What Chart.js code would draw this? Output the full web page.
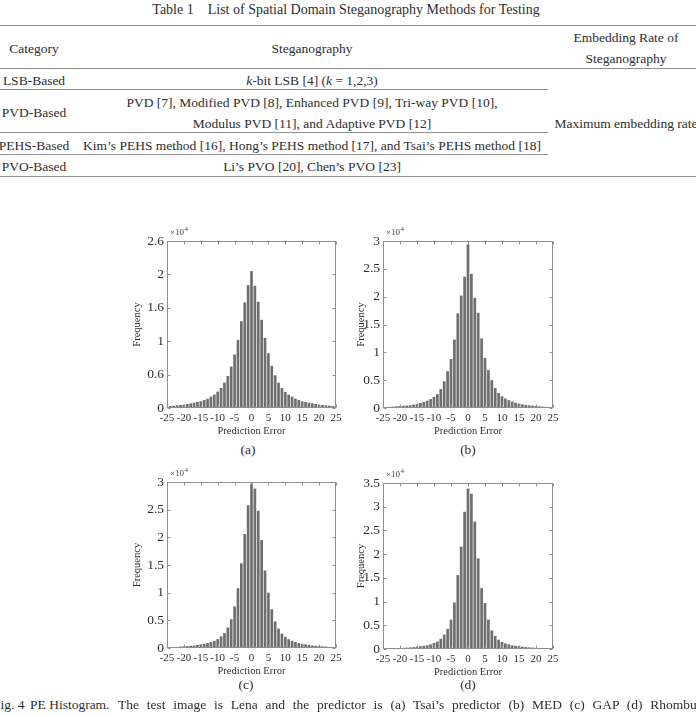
<!DOCTYPE html>
<html>
<head>
<meta charset="utf-8">
<script src="https://cdn.jsdelivr.net/npm/chart.js@4.4.0/dist/chart.umd.min.js"></script>
<style>
  html, body { margin: 0; padding: 0; background: #fff; }
  body {
    width: 696px; height: 717px; position: relative; overflow: hidden;
    font-family: "Liberation Serif", "Times New Roman", serif; color: #2e2e2e;
  }
  .t { position: absolute; white-space: pre; font-size: 13.5px; line-height: 16px; transform: translate(-50%, -50%); }
  .l { position: absolute; white-space: pre; font-size: 13.5px; line-height: 16px; transform: translateY(-50%); }
  .hl { position: absolute; height: 1px; background: #8e8e8e; }
  canvas { position: absolute; }
</style>
</head>
<body>

<!-- table -->
<div class="t" style="left:346px; top:10px; font-size:14px;">Table 1    List of Spatial Domain Steganography Methods for Testing</div>
<div class="hl" style="left:0; width:696px; top:25px;"></div>
<div class="t" style="left:34px; top:49px;">Category</div>
<div class="t" style="left:312px; top:49px;">Steganography</div>
<div class="t" style="left:626px; top:38px;">Embedding Rate of</div>
<div class="t" style="left:626px; top:59px;">Steganography</div>
<div class="hl" style="left:0; width:696px; top:68px;"></div>
<div class="t" style="left:34px; top:81px;">LSB-Based</div>
<div class="t" style="left:312px; top:81px;"><i>k</i>-bit LSB [4] (<i>k</i> = 1,2,3)</div>
<div class="hl" style="left:0; width:548px; top:89px;"></div>
<div class="t" style="left:34px; top:113px;">PVD-Based</div>
<div class="t" style="left:312px; top:103px;">PVD [7], Modified PVD [8], Enhanced PVD [9], Tri-way PVD [10],</div>
<div class="t" style="left:312px; top:124px;">Modulus PVD [11], and Adaptive PVD [12]</div>
<div class="t" style="left:626px; top:124px;">Maximum embedding rate</div>
<div class="hl" style="left:0; width:548px; top:132px;"></div>
<div class="t" style="left:34px; top:146px;">PEHS-Based</div>
<div class="t" style="left:312px; top:146px;">Kim’s PEHS method [16], Hong’s PEHS method [17], and Tsai’s PEHS method [18]</div>
<div class="hl" style="left:0; width:548px; top:154px;"></div>
<div class="t" style="left:34px; top:167px;">PVO-Based</div>
<div class="t" style="left:312px; top:167px;">Li’s PVO [20], Chen’s PVO [23]</div>
<div class="hl" style="left:0; width:696px; top:176px;"></div>

<!-- histograms -->
<canvas id="histA" width="235" height="217" style="left:115px; top:225px;"></canvas>
<canvas id="histB" width="236" height="217" style="left:331px; top:225px;"></canvas>
<canvas id="histC" width="235" height="216" style="left:115px; top:466px;"></canvas>
<canvas id="histD" width="236" height="216" style="left:331px; top:467px;"></canvas>

<div class="t" style="left:248px; top:450px;">(a)</div>
<div class="t" style="left:468px; top:450px;">(b)</div>
<div class="t" style="left:246px; top:685px;">(c)</div>
<div class="t" style="left:468px; top:685px;">(d)</div>

<div class="l" style="left:-7px; top:705px;">Fig. 4</div>
<div class="l" style="left:30px; top:705px;">PE Histogram.</div>
<div class="l" style="left:118px; top:705px; word-spacing:4.4px;">The test image is Lena and the predictor is (a) Tsai’s predictor (b) MED (c) GAP (d) Rhombus</div>

<script>
// prediction error bins
const errors = [-25, -24, -23, -22, -21, -20, -19, -18, -17, -16,
  -15, -14, -13, -12, -11, -10, -9, -8, -7, -6,
  -5, -4, -3, -2, -1, 0, 1, 2, 3, 4, 5,
  6, 7, 8, 9, 10, 11, 12, 13, 14, 15,
  16, 17, 18, 19, 20, 21, 22, 23, 24, 25];

// (a) Tsai's predictor
const freqA = [250, 300, 350, 400, 450, 500, 600, 700, 800, 900,
  1000, 1200, 1400, 1700, 2000, 2450, 3000, 3800, 4800, 6200,
  8000, 10200, 13000, 15800, 18400, 20500, 18300, 15900, 13200, 10500, 8200,
  6300, 4900, 3800, 3000, 2400, 2000, 1700, 1400, 1200, 1000,
  900, 800, 700, 600, 500, 450, 400, 350, 300, 250];

// (b) MED
const freqB = [150, 180, 200, 250, 300, 350, 400, 450, 500, 600,
  750, 900, 1100, 1300, 1600, 2000, 2500, 3400, 4800, 6600,
  8800, 12300, 17000, 20200, 23600, 29400, 24100, 19800, 17100, 12500, 9000,
  6800, 5000, 3600, 2700, 2100, 1700, 1400, 1150, 950, 800,
  650, 550, 480, 420, 360, 300, 250, 200, 170, 150];

// (c) GAP
const freqC = [120, 150, 180, 200, 250, 300, 350, 400, 450, 550,
  650, 750, 900, 1100, 1300, 1600, 2100, 2700, 3700, 5200,
  7500, 10800, 15300, 20600, 25800, 29700, 28800, 24800, 19500, 14000, 10000,
  7000, 4800, 3500, 2600, 2000, 1600, 1300, 1100, 900, 750,
  650, 550, 450, 400, 350, 300, 250, 200, 180, 150];

// (d) Rhombus
const freqD = [100, 120, 140, 160, 180, 200, 250, 300, 350, 400,
  500, 600, 700, 800, 1000, 1300, 1600, 2200, 3100, 4300,
  6300, 10000, 15900, 22000, 29500, 34500, 33400, 27400, 19500, 13100, 9900,
  6300, 4000, 2800, 2000, 1500, 1200, 1000, 800, 700, 600,
  500, 420, 360, 300, 250, 200, 170, 150, 120, 100];

const xTickLabels = ['-25', '-20', '-15', '-10', '-5', '0', '5', '10', '15', '20', '25'];
const yTicksA = ['0', '0.6', '1', '1.6', '2', '2.6'];
const yTicksB = ['0', '0.5', '1', '1.5', '2', '2.5', '3'];
const yTicksC = ['0', '0.5', '1', '1.5', '2', '2.5', '3'];
const yTicksD = ['0', '0.5', '1', '1.5', '2', '2.5', '3', '3.5'];

const serif = '"Liberation Serif", "Times New Roman", serif';
const textColor = '#2e2e2e';

// MATLAB-like box with inward ticks and the x10^4 exponent
const boxPlugin = {
  id: 'box',
  afterDraw(chart) {
    const { ctx, chartArea: a, scales } = chart;
    const l = Math.round(a.left) + 0.5, r = Math.round(a.right) - 0.5;
    const t = Math.round(a.top) + 0.5, b = Math.round(a.bottom) - 0.5;
    ctx.save();
    ctx.strokeStyle = '#8e8e8e';
    ctx.lineWidth = 1;
    ctx.strokeRect(l, t, r - l, b - t);
    ctx.beginPath();
    scales.x.ticks.forEach((tk) => {
      const x = Math.round(scales.x.getPixelForValue(tk.value)) + 0.5;
      ctx.moveTo(x, t); ctx.lineTo(x, t + 3);
      ctx.moveTo(x, b); ctx.lineTo(x, b - 3);
    });
    scales.y.ticks.forEach((tk) => {
      const y = Math.round(scales.y.getPixelForValue(tk.value)) + 0.5;
      ctx.moveTo(l, y); ctx.lineTo(l + 3, y);
      ctx.moveTo(r, y); ctx.lineTo(r - 3, y);
    });
    ctx.stroke();
    ctx.fillStyle = '#444';
    ctx.font = '9px ' + serif;
    ctx.textBaseline = 'alphabetic';
    ctx.fillText('×10', a.left + 3, a.top - 6);
    const w = ctx.measureText('×10').width;
    ctx.font = '7px ' + serif;
    ctx.fillText('4', a.left + 3 + w + 0.5, a.top - 10);
    ctx.restore();
  }
};

function drawHist(id, freq, yLabels, yMax, yAxisWidth, titlePad) {
  new Chart(document.getElementById(id), {
    type: 'bar',
    data: {
      datasets: [{
        data: errors.map((e, i) => ({ x: e, y: freq[i] })),
        backgroundColor: '#6f6f6f',
        borderWidth: 0,
        barPercentage: 0.8,
        categoryPercentage: 1
      }]
    },
    options: {
      responsive: false,
      animation: false,
      layout: { padding: { top: 16, right: 14, left: 0, bottom: 0 } },
      plugins: { legend: { display: false }, tooltip: { enabled: false } },
      scales: {
        x: {
          type: 'linear', min: -25, max: 25, offset: false,
          grid: { display: false, drawTicks: false }, border: { display: false },
          ticks: {
            stepSize: 5, autoSkip: false, maxRotation: 0, padding: 4,
            color: textColor, font: { family: serif, size: 11 },
            callback: (v) => xTickLabels[(v + 25) / 5]
          },
          title: {
            display: true, text: 'Prediction Error', color: textColor,
            font: { family: serif, size: 10.5 }, padding: { top: 0, bottom: 4 }
          },
          afterFit: (s) => { s.height = 34; }
        },
        y: {
          min: 0, max: yMax,
          grid: { display: false, drawTicks: false }, border: { display: false },
          ticks: {
            stepSize: 5000, includeBounds: false, padding: 3,
            color: textColor, font: { family: serif, size: 13.5 },
            callback: (v) => yLabels[Math.round(v / 5000)]
          },
          title: {
            display: true, text: 'Frequency', color: textColor,
            font: { family: serif, size: 10.5 }, padding: { top: titlePad, bottom: 0 }
          },
          afterFit: (s) => { s.width = yAxisWidth; }
        }
      }
    },
    plugins: [boxPlugin]
  });
}

drawHist('histA', freqA, yTicksA, 25000, 52, 15.5);
drawHist('histB', freqB, yTicksB, 30000, 52, 23.5);
drawHist('histC', freqC, yTicksC, 30000, 52, 15.5);
drawHist('histD', freqD, yTicksD, 35700, 52, 23.5);
</script>
</body>
</html>
